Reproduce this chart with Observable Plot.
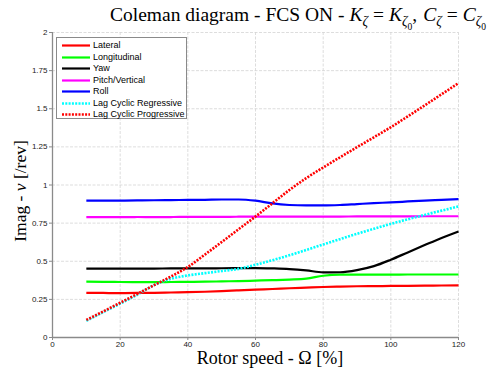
<!DOCTYPE html>
<html>
<head>
<meta charset="utf-8">
<script src="https://cdn.jsdelivr.net/npm/d3@7"></script>
<script src="https://cdn.jsdelivr.net/npm/@observablehq/plot@0.6"></script>
<style>
  html, body { margin: 0; padding: 0; background: #fff; }
  #wrap { position: relative; width: 491px; height: 369px; overflow: hidden; }
  .serif { font-family: "Liberation Serif", "DejaVu Serif", serif; color: #000; position: absolute; white-space: nowrap; line-height: 1; }
  #title { left: 0; width: 491px; top: 5px; font-size: 19.5px; text-align: right; padding-right: 5px; box-sizing: border-box; }
  #xlabel { top: 349px; left: 270px; transform: translateX(-50%); font-size: 18px; }
  #ylabel { left: 21px; top: 191px; transform: translate(-50%, -50%) rotate(-90deg); font-size: 17.5px; }
  #legend { position: absolute; left: 56px; top: 37px; width: 131px; height: 82px; background: #fff; border: 1px solid #8a8a8a; box-sizing: border-box; font-family: "Liberation Sans", Arial, sans-serif; font-size: 9px; }
  .row { position: absolute; left: 0; height: 11px; line-height: 11px; }
  .row svg { position: absolute; left: 5px; top: 0; }
  .row span { position: absolute; left: 36px; top: 0; white-space: nowrap; }
  sub { font-size: 70%; line-height: 0; }
  .eq { display: inline-block; padding: 0 5px; }
  .cm { display: inline-block; width: 6px; }
</style>
</head>
<body>
<div id="wrap">
  <div id="chart"></div>
  <div id="title" class="serif">Coleman diagram - FCS ON - <i>K</i><sub><i>ζ</i></sub><span class="eq">=</span><i>K</i><sub><i>ζ</i><sub>0</sub></sub>,<span class="cm"></span><i>C</i><sub><i>ζ</i></sub><span class="eq">=</span><i>C</i><sub><i>ζ</i><sub>0</sub></sub></div>
  <div id="xlabel" class="serif">Rotor speed - Ω [%]</div>
  <div id="ylabel" class="serif">Imag - <i>ν</i> [/rev]</div>
  <div id="legend"></div>
</div>
<script>
// Rotor speed [%]
const speed = [10,15,20,25,30,35,40,45,50,55,60,65,70,75,80,85,90,95,100,105,110,115,120];

const lateral      = [0.293,0.292,0.291,0.292,0.293,0.295,0.297,0.300,0.304,0.309,0.314,0.318,0.323,0.327,0.331,0.334,0.336,0.337,0.338,0.339,0.340,0.341,0.342];
const longitudinal = [0.367,0.365,0.364,0.363,0.363,0.364,0.365,0.366,0.368,0.370,0.373,0.376,0.380,0.386,0.405,0.412,0.412,0.412,0.412,0.413,0.413,0.413,0.413];
const yaw          = [0.452,0.452,0.452,0.452,0.452,0.453,0.453,0.453,0.454,0.455,0.455,0.453,0.449,0.440,0.427,0.428,0.442,0.468,0.510,0.558,0.606,0.653,0.695];
const pitchVert    = [0.789,0.789,0.789,0.790,0.790,0.790,0.791,0.791,0.791,0.792,0.792,0.792,0.793,0.793,0.793,0.793,0.794,0.794,0.794,0.794,0.795,0.795,0.795];
const roll         = [0.898,0.898,0.898,0.899,0.900,0.901,0.902,0.903,0.905,0.905,0.897,0.879,0.869,0.866,0.866,0.869,0.875,0.881,0.886,0.892,0.898,0.903,0.908];
const lagRegr      = [0.109,0.166,0.222,0.280,0.343,0.385,0.407,0.422,0.436,0.450,0.477,0.507,0.539,0.574,0.610,0.645,0.680,0.713,0.745,0.775,0.804,0.832,0.859];
const lagProg      = [0.115,0.171,0.228,0.285,0.343,0.400,0.462,0.543,0.626,0.710,0.793,0.880,0.967,1.045,1.115,1.182,1.248,1.313,1.379,1.450,1.522,1.595,1.668];

const seriesNames  = ["Lateral","Longitudinal","Yaw","Pitch/Vertical","Roll","Lag Cyclic Regressive","Lag Cyclic Progressive"];
const seriesValues = [lateral, longitudinal, yaw, pitchVert, roll, lagRegr, lagProg];
const seriesColors = ["#ff0000","#00ff00","#000000","#ff00ff","#0000ff","#00ffff","#ff0000"];
const seriesDotted = [false,false,false,false,false,true,true];

const xTicks = [0,20,40,60,80,100,120];
const yTicks = [0,0.25,0.5,0.75,1,1.25,1.5,1.75,2];
const yTickLabels = ["0","0.25","0.5","0.75","1","1.25","1.5","1.75","2"];

const rows = seriesNames.map((name, k) => speed.map((x, i) => ({x, y: seriesValues[k][i], name})));

const gridStyle = {stroke: "#d4d4d4", strokeOpacity: 1, strokeWidth: 0.8, strokeDasharray: "3,1.5"};

const lineMarks = rows.map((data, k) => Plot.line(data, {
  x: "x", y: "y",
  stroke: seriesColors[k],
  strokeWidth: seriesDotted[k] ? 2.6 : 2.2,
  strokeDasharray: seriesDotted[k] ? "2,1.3" : null,
  strokeLinecap: "butt",
  curve: "monotone-x"
}));

const chart = Plot.plot({
  width: 491,
  height: 369,
  marginLeft: 52,
  marginRight: 33,
  marginTop: 32,
  marginBottom: 32,
  style: {fontFamily: "'Liberation Sans', Arial, sans-serif", fontSize: "8px", color: "#222", background: "#fff"},
  x: {domain: [0, 120]},
  y: {domain: [0, 2]},
  marks: [
    Plot.gridX(xTicks, gridStyle),
    Plot.gridY(yTicks, gridStyle),
    ...lineMarks,
    Plot.ruleX([0], {stroke: "#8a8a8a", strokeWidth: 1.3}),
    Plot.ruleY([0], {stroke: "#8a8a8a", strokeWidth: 1.3}),
    Plot.axisX(xTicks, {tickSize: 3, tickPadding: 1, stroke: "#8a8a8a", label: null, fontSize: 8}),
    Plot.axisY(yTicks, {tickSize: 3, tickPadding: 2, stroke: "#8a8a8a", label: null, fontSize: 8,
      tickFormat: (d) => yTickLabels[yTicks.indexOf(d)]})
  ]
});
document.getElementById("chart").appendChild(chart);

// legend (inside the axes, top-left)
const legend = document.getElementById("legend");
seriesNames.forEach((name, k) => {
  const row = document.createElement("div");
  row.className = "row";
  row.style.top = (2 + k * 11.5) + "px";
  row.style.width = "100%";
  const dash = seriesDotted[k] ? 'stroke-dasharray="2,1.3"' : "";
  row.innerHTML = `<svg width="28" height="11"><line x1="0" x2="28" y1="5.5" y2="5.5" stroke="${seriesColors[k]}" stroke-width="${seriesDotted[k] ? 2.6 : 2.2}" ${dash}/></svg><span>${name}</span>`;
  legend.appendChild(row);
});
</script>
</body>
</html>
